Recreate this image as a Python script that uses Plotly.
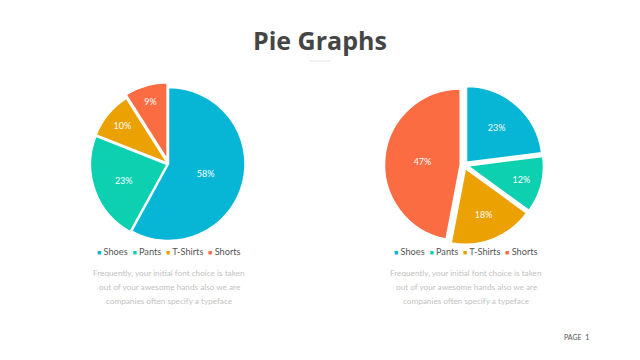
import plotly.graph_objects as go

labels = ["Shoes", "Pants", "T-Shirts", "Shorts"]
left_values = [58, 23, 10, 9]
right_values = [23, 12, 18, 47]
colors = ["#07b6d5", "#0dd0b1", "#eba102", "#fc6c43"]
left_pull = [0.0, 0.02, 0.02, 0.065]
right_pull = [0.05, 0.05, 0.05, 0.05]
title_text = "Pie Graphs"
caption_lines = [
    "Frequently, your initial font choice is taken",
    "out of your awesome hands also we are",
    "companies often specify a typeface",
]
page_text = "PAGE  1"

W, H = 640, 360

def px_dom(x0, x1, y0, y1):
    return dict(x=[x0 / W, x1 / W], y=[1 - y1 / H, 1 - y0 / H])

fig = go.Figure()
common = dict(
    labels=labels,
    sort=False,
    direction="clockwise",
    rotation=0,
    textinfo="percent",
    textposition="inside",
    insidetextfont=dict(color="white", size=9, family="Lato"),
    marker=dict(colors=colors, line=dict(color="white", width=1.5)),
    showlegend=False,
    hoverinfo="label+percent",
)
fig.add_trace(go.Pie(values=left_values, pull=left_pull,
                     domain=px_dom(87, 250, 82.5, 245.5), **common))
fig.add_trace(go.Pie(values=right_values, pull=right_pull,
                     domain=px_dom(384.5, 543.5, 85.5, 244.5), **common))

annotations = []
annotations.append(dict(text="<b>" + title_text + "</b>", x=0.5, y=1 - 40 / H, xref="paper", yref="paper",
                        showarrow=False, font=dict(family="Open Sans", size=25, color="#454545"),
                        xanchor="center", yanchor="middle"))

def legend_text():
    parts = []
    for lab, c in zip(labels, colors):
        parts.append(f"<span style='color:{c};font-size:7px'>■</span> {lab}")
    return "  ".join(parts)

for cx in (169, 466):
    annotations.append(dict(text=legend_text(), x=cx / W, y=1 - 251 / H, xref="paper", yref="paper",
                            showarrow=False, font=dict(family="Lato", size=9.2, color="#555555"),
                            xanchor="center", yanchor="middle"))
    for i, line in enumerate(caption_lines):
        annotations.append(dict(text=line, x=cx / W, y=1 - (273 + 14 * i) / H, xref="paper", yref="paper",
                                showarrow=False, font=dict(family="Lato", size=8.2, color="#c2c2c2"),
                                xanchor="center", yanchor="middle"))

annotations.append(dict(text=page_text, x=562 / W, y=1 - 337 / H, xref="paper", yref="paper",
                        showarrow=False, font=dict(family="Lato", size=7, color="#555555"),
                        xanchor="left", yanchor="middle"))

fig.update_layout(
    width=W, height=H,
    margin=dict(l=0, r=0, t=0, b=0),
    paper_bgcolor="white", plot_bgcolor="white",
    annotations=annotations,
    shapes=[dict(type="line", xref="paper", yref="paper",
                 x0=310 / W, x1=330 / W, y0=1 - 61 / H, y1=1 - 61 / H,
                 line=dict(color="#e2e2e2", width=1))],
)

fig.write_html("out.html", config={"displayModeBar": False},
               post_script="document.body.style.margin='0';document.body.style.overflow='hidden';")
